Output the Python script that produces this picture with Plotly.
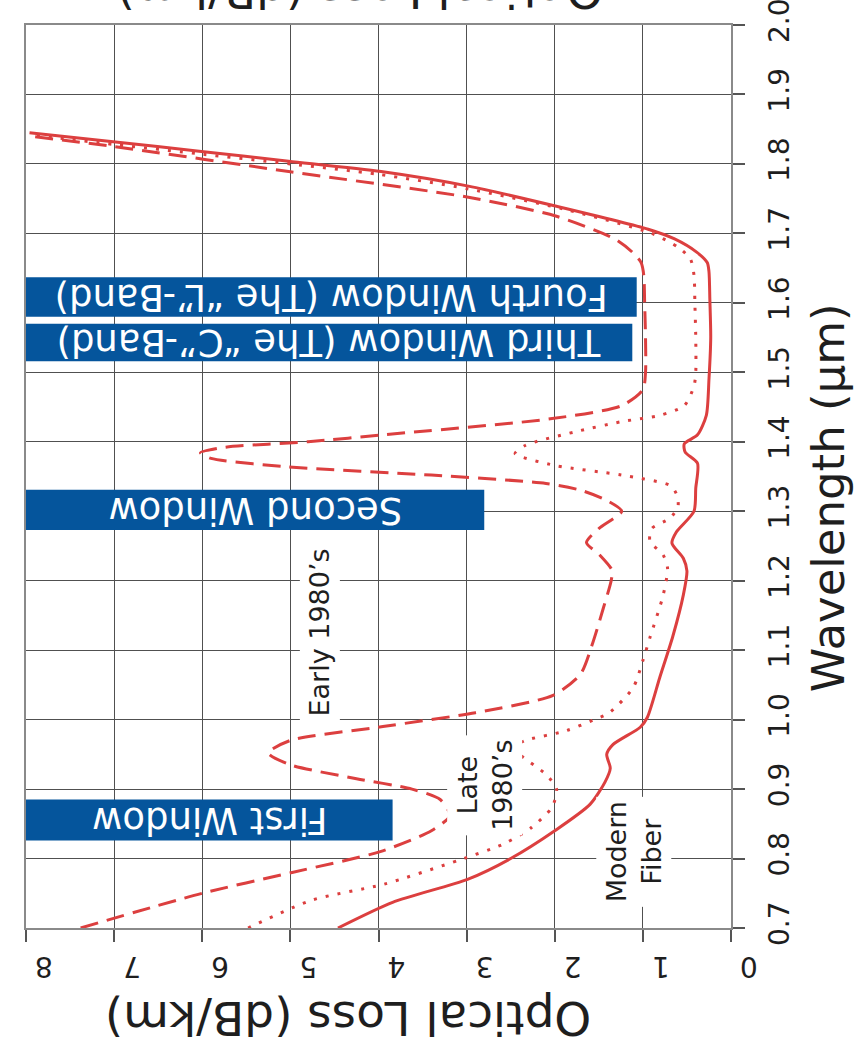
import plotly.graph_objects as go

# Fibre attenuation spectra (wavelength in µm, loss in dB/km)
wl_early = [0.70, 0.75, 0.78, 0.81, 0.84, 0.862, 0.885, 0.90, 0.915, 0.935, 0.952, 0.97,
            0.99, 1.01, 1.035, 1.065, 1.11, 1.16, 1.20, 1.215, 1.237, 1.255, 1.275, 1.30,
            1.315, 1.33, 1.34, 1.352, 1.364, 1.376, 1.384, 1.392, 1.40, 1.41, 1.433, 1.452,
            1.475, 1.50, 1.55, 1.60, 1.64, 1.658, 1.673, 1.692, 1.725, 1.752, 1.789, 1.825, 1.84]
loss_early = [7.38, 6.00, 4.98, 3.98, 3.40, 3.19, 3.30, 3.62, 4.25, 5.00, 5.25, 5.00,
              3.95, 2.90, 2.02, 1.71, 1.57, 1.45, 1.36, 1.35, 1.49, 1.64, 1.50, 1.24,
              1.40, 1.70, 2.10, 3.40, 5.04, 5.90, 6.02, 5.75, 4.80, 3.95, 2.05, 1.24,
              1.00, 0.97, 0.97, 0.98, 0.99, 1.02, 1.12, 1.32, 1.99, 2.98, 5.02, 7.00, 7.96]

wl_late = [0.70, 0.74, 0.763, 0.798, 0.821, 0.845, 0.874, 0.90, 0.92, 0.95, 0.96, 0.97,
           0.984, 1.00, 1.01, 1.046, 1.085, 1.118, 1.179, 1.218, 1.237, 1.257, 1.275, 1.29,
           1.308, 1.325, 1.337, 1.352, 1.366, 1.383, 1.395, 1.414, 1.429, 1.438, 1.452, 1.48,
           1.50, 1.55, 1.60, 1.64, 1.663, 1.68, 1.70, 1.735, 1.764, 1.785, 1.80, 1.814, 1.828, 1.842]
loss_late = [5.48, 4.76, 3.94, 3.08, 2.58, 2.26, 2.03, 1.98, 2.09, 2.40, 2.47, 2.33,
             1.87, 1.55, 1.38, 1.11, 1.00, 0.92, 0.77, 0.72, 0.77, 0.92, 0.90, 0.69,
             0.60, 0.62, 0.69, 1.24, 2.00, 2.45, 2.33, 1.78, 1.24, 0.81, 0.53, 0.42,
             0.40, 0.40, 0.41, 0.42, 0.46, 0.60, 0.90, 1.90, 2.98, 4.00, 5.00, 6.00, 7.00, 7.96]

wl_modern = [0.70, 0.737, 0.77, 0.80, 0.84, 0.878, 0.91, 0.93, 0.95, 0.964, 0.989, 1.003,
             1.06, 1.12, 1.18, 1.214, 1.232, 1.254, 1.27, 1.30, 1.333, 1.369, 1.385, 1.397,
             1.41, 1.438, 1.49, 1.55, 1.605, 1.645, 1.658, 1.673, 1.692, 1.706, 1.739, 1.768,
             1.789, 1.804, 1.818, 1.832, 1.845]
loss_modern = [4.46, 3.84, 2.99, 2.50, 2.00, 1.60, 1.43, 1.37, 1.41, 1.34, 1.03, 0.95,
               0.81, 0.66, 0.54, 0.50, 0.54, 0.67, 0.62, 0.42, 0.40, 0.38, 0.52, 0.53,
               0.38, 0.28, 0.25, 0.23, 0.24, 0.25, 0.27, 0.39, 0.64, 0.94, 1.98, 2.98,
               3.97, 5.02, 6.01, 7.01, 7.96]

# Transmission windows: wavelength span and how far the label bar reaches
band_names = ["First Window", "Second Window",
              "Third Window (The \u201cC\u201d-Band)", "Fourth Window (The \u201cL\u201d-Band)"]
band_lo = [0.826, 1.273, 1.516, 1.580]
band_hi = [0.885, 1.331, 1.570, 1.637]
band_end = [3.84, 2.80, 1.12, 1.07]

loss_ticks = [8, 7, 6, 5, 4, 3, 2, 1, 0]
wl_ticks = [0.7, 0.8, 0.9, 1.0, 1.1, 1.2, 1.3, 1.4, 1.5, 1.6, 1.7, 1.8, 1.9, 2.0]

RED = "#dc3f3f"
BLUE = "#05559c"
INK = "#1e1e1e"
FONT = "DejaVu Sans"
LOSS_MAX = 8

fig = go.Figure()

fig.add_trace(go.Scatter(x=loss_early, y=wl_early, mode="lines", name="Early 1980\u2019s",
                         line=dict(color=RED, width=3, dash="18px,9px", shape="spline", smoothing=0.7)))
fig.add_trace(go.Scatter(x=loss_late, y=wl_late, mode="lines", name="Late 1980\u2019s",
                         line=dict(color=RED, width=3, dash="3px,9px", shape="spline", smoothing=0.7)))
fig.add_trace(go.Scatter(x=loss_modern, y=wl_modern, mode="lines", name="Modern Fiber",
                         line=dict(color=RED, width=3, shape="spline", smoothing=0.7)))

for name, lo, hi, end in zip(band_names, band_lo, band_hi, band_end):
    fig.add_shape(type="rect", xref="x", yref="y", x0=LOSS_MAX, x1=end, y0=lo, y1=hi,
                  fillcolor=BLUE, line=dict(width=0), layer="above")
    fig.add_annotation(x=(LOSS_MAX + end) / 2, y=(lo + hi) / 2, xref="x", yref="y",
                       text=name, showarrow=False, textangle=180,
                       xanchor="center", yanchor="middle",
                       font=dict(family=FONT, size=37, color="white"))

# Curve labels
for txt, lx, ly in [("Early 1980\u2019s", 4.67, 1.126),
                    ("Late<br>1980\u2019s", 2.80, 0.905),
                    ("Modern<br>Fiber", 1.10, 0.809)]:
    fig.add_annotation(x=lx, y=ly, xref="x", yref="y", text=txt, showarrow=False,
                       textangle=-90, bgcolor="white", borderpad=4,
                       xanchor="center", yanchor="middle",
                       font=dict(family=FONT, size=27, color=INK))

# Axis titles
fig.add_annotation(x=0.457, y=-0.101, xref="paper", yref="paper", text="Optical Loss (dB/km)",
                   showarrow=False, textangle=180, xanchor="center", yanchor="middle",
                   font=dict(family=FONT, size=47, color=INK))
fig.add_annotation(x=0.474, y=1.037, xref="paper", yref="paper", text="Optical Loss (dB/km)",
                   showarrow=False, textangle=180, xanchor="center", yanchor="middle",
                   font=dict(family=FONT, size=47, color=INK))
fig.add_annotation(x=1.1376, y=0.476, xref="paper", yref="paper", text="Wavelength (\u03bcm)",
                   showarrow=False, textangle=-90, xanchor="center", yanchor="middle",
                   font=dict(family=FONT, size=45, color=INK))

fig.update_layout(
    width=854, height=1059, autosize=False,
    margin=dict(l=26, r=123, t=25, b=131, autoexpand=False),
    paper_bgcolor="white", plot_bgcolor="white",
    showlegend=False,
    font=dict(family=FONT, color=INK),
)
fig.update_xaxes(range=[LOSS_MAX, 0], tickvals=loss_ticks, ticktext=[str(v) for v in loss_ticks],
                 tickangle=180, tickfont=dict(size=28, color=INK),
                 showgrid=True, gridcolor="#505050", gridwidth=1,
                 showline=True, linecolor="#8a8a8a", linewidth=2, mirror=True,
                 ticks="outside", ticklen=12, tickcolor="#555", tickwidth=2,
                 zeroline=False, ticklabelstandoff=9, ticklabelshift=-9,
                 ticklabeloverflow="allow", automargin=False)
fig.update_yaxes(range=[0.7, 2.0], tickvals=wl_ticks, ticktext=[f"{v:.1f}" for v in wl_ticks],
                 side="right", tickangle=-90, tickfont=dict(size=28, color=INK),
                 showgrid=True, gridcolor="#505050", gridwidth=1,
                 showline=True, linecolor="#8a8a8a", linewidth=2, mirror=True,
                 ticks="outside", ticklen=12, tickcolor="#555", tickwidth=2,
                 zeroline=False, ticklabelstandoff=10, ticklabeloverflow="allow",
                 automargin=False)

fig.write_html("out.html")
